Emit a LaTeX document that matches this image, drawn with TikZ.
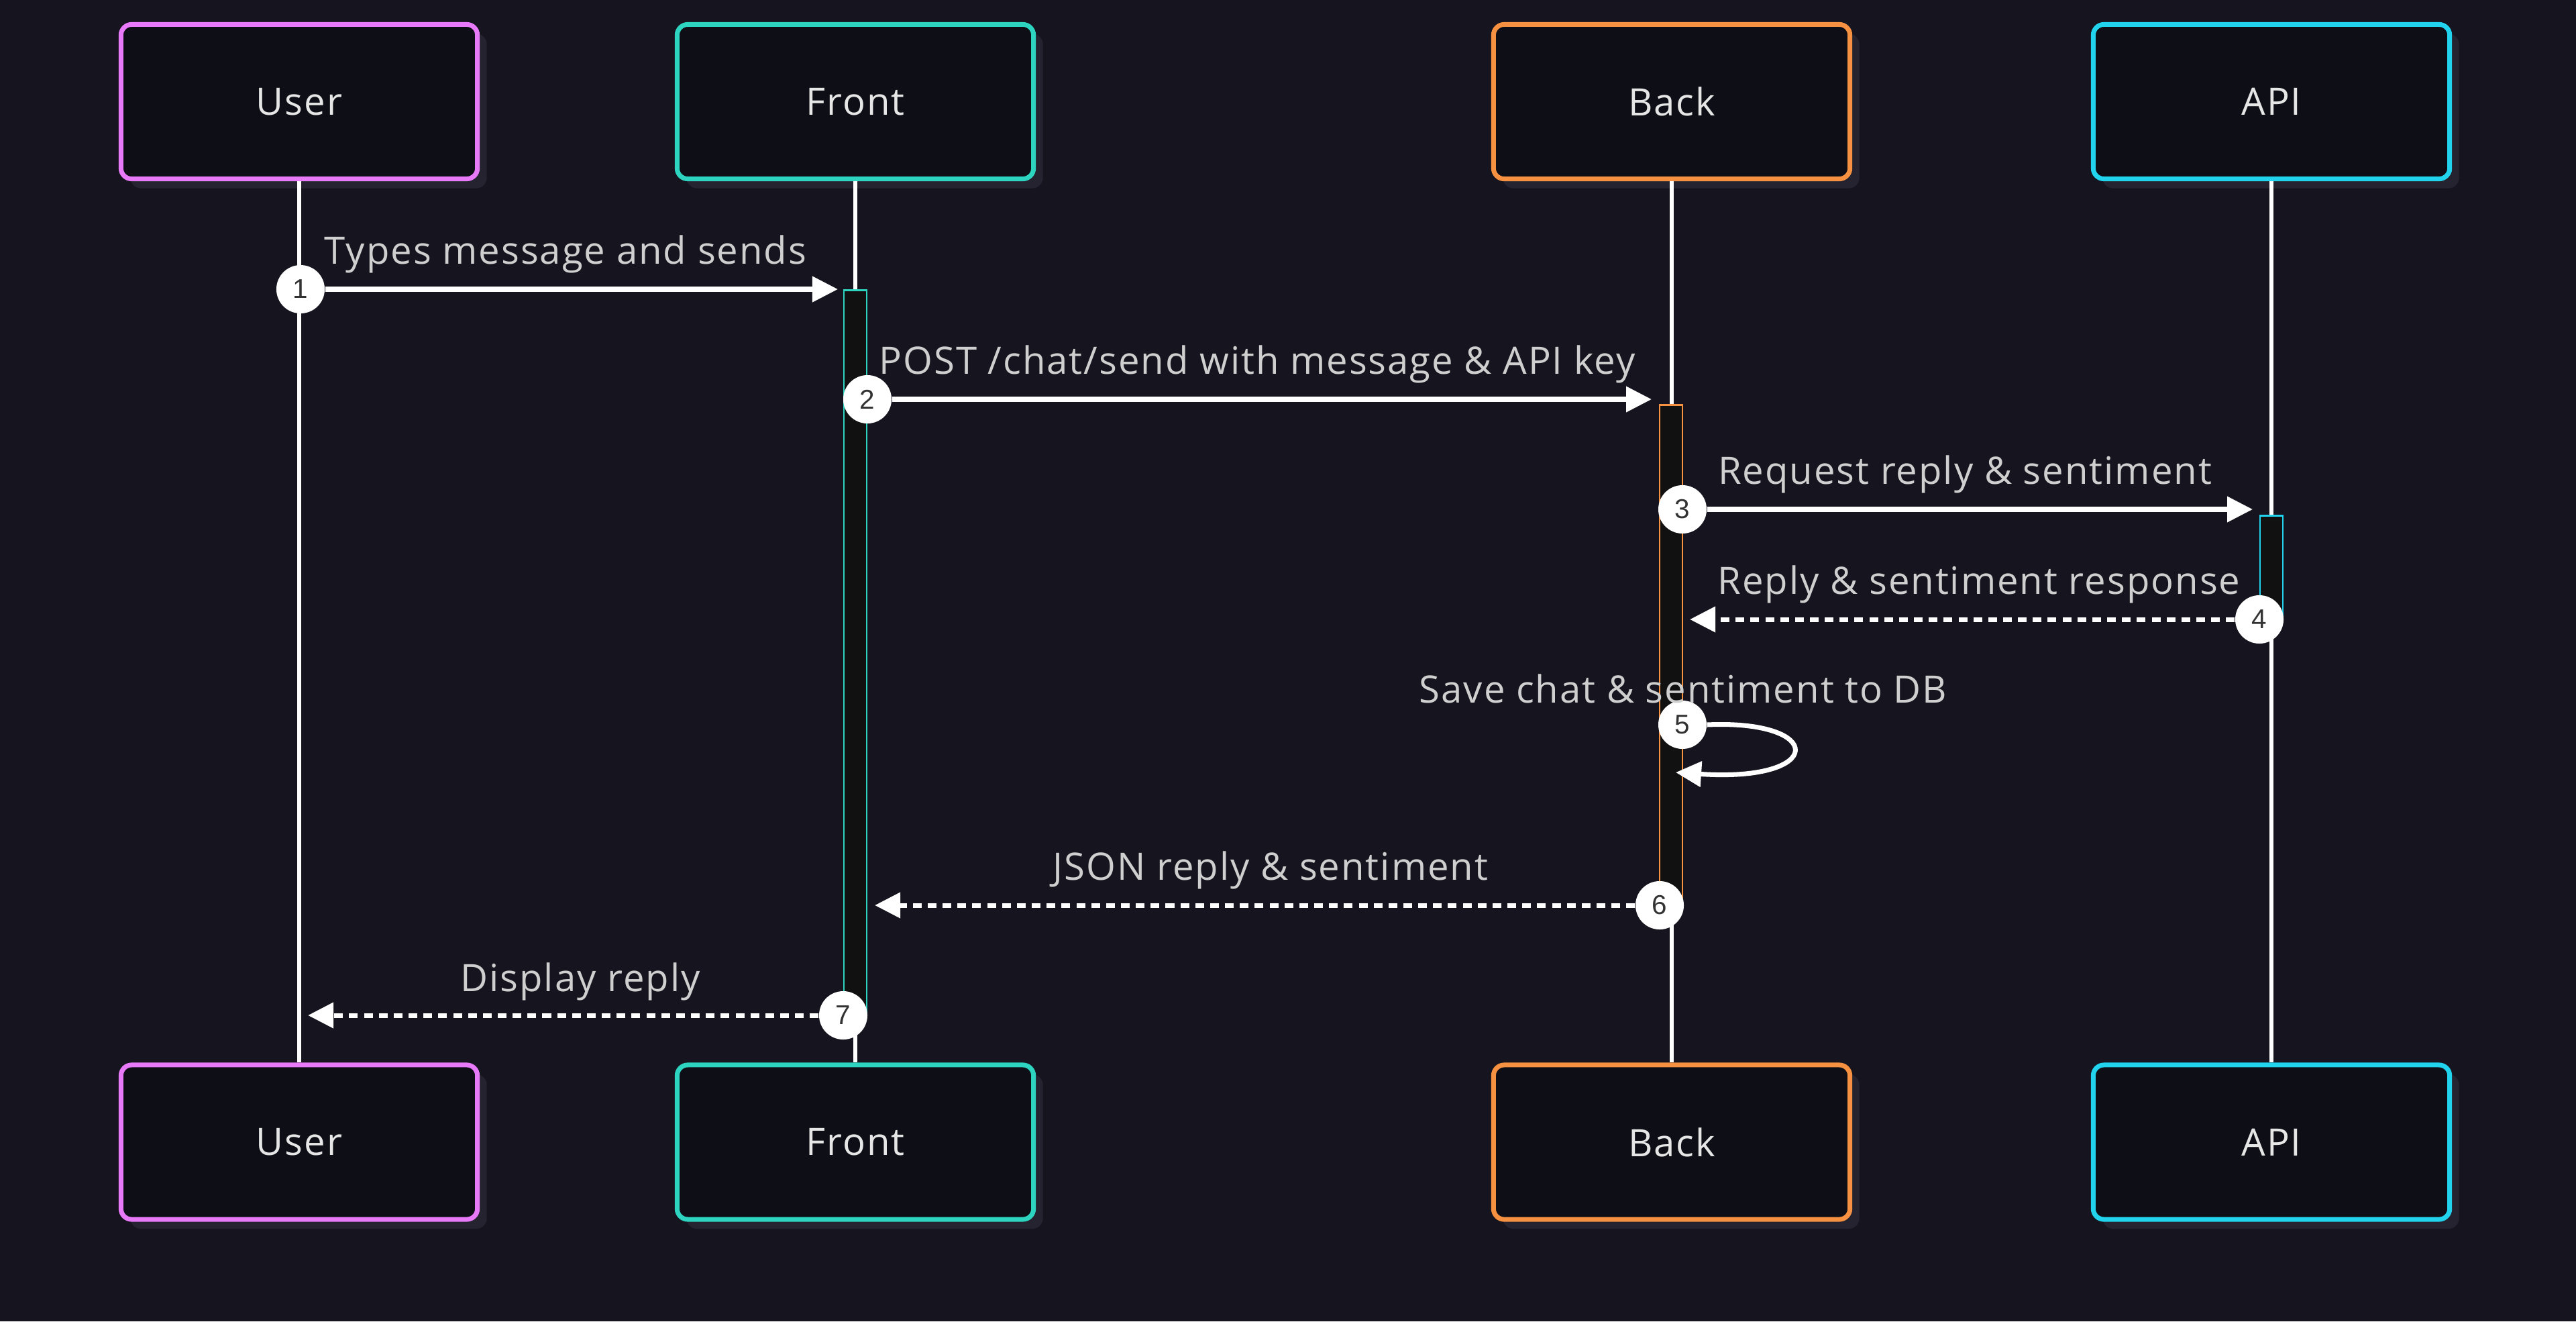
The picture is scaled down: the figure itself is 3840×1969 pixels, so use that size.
\documentclass[tikz,border=0pt]{standalone}
\usepackage{fontspec}
\setmainfont{Open Sans}[LetterSpace=3.5]
\newfontfamily\numfont{Liberation Sans}
\usetikzlibrary{arrows.meta,shadows}
\definecolor{bgc}{HTML}{16151F}
\definecolor{boxfill}{HTML}{0E0E16}
\definecolor{shadowc}{HTML}{25232F}
\definecolor{cuser}{HTML}{E879F9}
\definecolor{cfront}{HTML}{2DD4BF}
\definecolor{cback}{HTML}{F59140}
\definecolor{capi}{HTML}{22D3EE}
\definecolor{barfill}{HTML}{111111}
\definecolor{boxtext}{HTML}{E6E6E6}
\definecolor{lbltext}{HTML}{CFCFCF}
\definecolor{numtext}{HTML}{333333}
\tikzset{
  actor/.style={draw=#1, line width=2pt, rounded corners=4.5pt, fill=boxfill,
    minimum width=5.31cm, minimum height=2.30cm, text=boxtext, inner sep=0,
    font=\fontsize{16}{19}\selectfont,
    drop shadow={shadow xshift=0.14cm, shadow yshift=-0.14cm, fill=shadowc, opacity=1, draw=none}},
  lifeline/.style={draw=white, line width=1.8pt},
  actbar/.style={draw=#1, line width=0.8pt, fill=barfill, minimum width=0.34cm, anchor=north, inner sep=0},
  num/.style={circle, fill=white, minimum size=0.72cm, inner sep=0, text=numtext,
    font=\numfont\fontsize{11.5}{13}\selectfont},
  msg/.style={draw=white, line width=2pt, -{Triangle[length=0.38cm,width=0.37cm]}},
  reply/.style={msg, dash pattern=on 3.7pt off 2.6pt},
  lbl/.style={text=lbltext, font=\fontsize{16}{19}\selectfont, anchor=base, inner sep=0},
}
\begin{document}
\begin{tikzpicture}[x=0.01cm,y=-0.01cm]
\fill[bgc] (0,0) rectangle (3840,1969);
\useasboundingbox (0,0) rectangle (3840,1969);
% actors
\node[actor=cuser]  (ut) at (446,151.5)  {User};
\node[actor=cfront] (ft) at (1275,151.5) {Front};
\node[actor=cback]  (bt) at (2492,151.5) {Back};
\node[actor=capi]   (at) at (3386,151.5) {API};
\node[actor=cuser]  (ub) at (446,1702)  {User};
\node[actor=cfront] (fb) at (1275,1702) {Front};
\node[actor=cback]  (bb) at (2492,1702) {Back};
\node[actor=capi]   (ab) at (3386,1702) {API};
% lifelines
\draw[lifeline] (ut.south) -- (ub.north);
\draw[lifeline] (ft.south) -- (fb.north);
\draw[lifeline] (bt.south) -- (bb.north);
\draw[lifeline] (at.south) -- (ab.north);
% activation bars
\node[actbar=cfront, minimum height=10.80cm] (fbar) at (1275,431) {};
\node[actbar=cback,  minimum height=7.47cm]  (bbar) at (2491,602) {};
\node[actbar=capi,   minimum height=1.56cm]  (abar) at (3386,767) {};
% step circles
\node[num] (c1) at (448,431)   {1};
\node[num] (c2) at (1293,595)  {2};
\node[num] (c3) at (2508,759)  {3};
\node[num] (c4) at (3368,923)  {4};
\node[num] (c5) at (2508,1080) {5};
\node[num] (c6) at (2474,1349) {6};
\node[num] (c7) at (1257,1513) {7};
% arrow targets
\coordinate (t1) at (1249,431);
\coordinate (t2) at (2462,595);
\coordinate (t3) at (3358,759);
\coordinate (t4) at (2519,923);
\coordinate (t5) at (2498,1151);
\coordinate (t6) at (1304,1349);
\coordinate (t7) at (459,1513);
% messages
\draw[msg] (c1) -- (t1);
\draw[msg] (c2) -- (t2);
\draw[msg] (c3) -- (t3);
\draw[reply] (c4) -- (t4);
\draw[msg] (c5.east) .. controls (2722,1072) and (2722,1166) .. (t5);
\draw[reply] (c6) -- (t6);
\draw[reply] (c7) -- (t7);
% labels
\node[lbl] (l1) at (843,393)   {Types message and sends};
\node[lbl] (l2) at (1874,557)  {POST /chat/send with message \& API key};
\node[lbl] (l3) at (2929,721)  {Request reply \& sentiment};
\node[lbl] (l4) at (2950,885)  {Reply \& sentiment response};
\node[lbl] (l5) at (2509,1047) {Save chat \& sentiment to DB};
\node[lbl] (l6) at (1894,1311) {JSON reply \& sentiment};
\node[lbl] (l7) at (865,1477)  {Display reply};
\end{tikzpicture}
\end{document}
